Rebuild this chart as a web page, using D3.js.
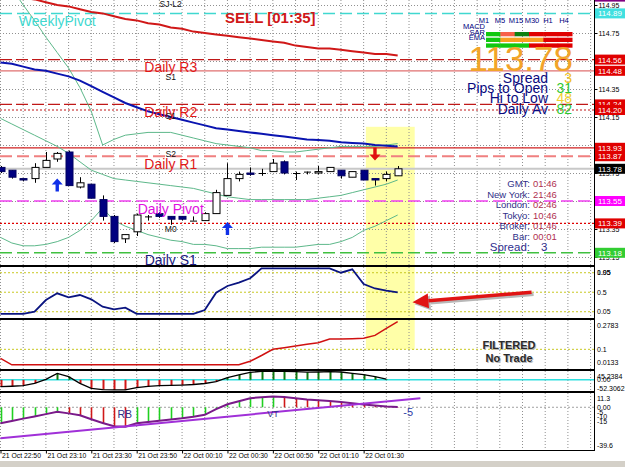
<!DOCTYPE html>
<html>
<head>
<meta charset="utf-8">
<script src="https://cdn.jsdelivr.net/npm/d3@7"></script>
<style>
  html, body { margin: 0; padding: 0; background: #fff; overflow: hidden; }
  svg { display: block; font-family: "Liberation Sans", Arial, sans-serif; }
</style>
</head>
<body>
<svg id="chart" width="625" height="467"></svg>
<script>
// M5 bars, 21 Oct 22:50 -> 22 Oct 01:45
const opens  = [113.79,113.77,113.71,113.71,113.79,113.85,113.90,113.65,113.67,113.56,113.44,113.28,113.33,113.44,113.46,113.44,113.44,113.41,113.41,113.46,113.59,113.71,113.75,113.75,113.76,113.83,113.75,113.76,113.75,113.76,113.77,113.72,113.77,113.71,113.71,113.73];
const highs  = [113.80,113.77,113.71,113.82,113.90,113.90,113.91,113.72,113.67,113.59,113.45,113.31,113.46,113.45,113.47,113.44,113.44,113.44,113.47,113.63,113.82,113.76,113.79,113.78,113.85,113.84,113.76,113.76,113.80,113.79,113.77,113.76,113.77,113.71,113.76,113.80];
const lows   = [113.75,113.71,113.69,113.68,113.79,113.83,113.66,113.64,113.57,113.41,113.25,113.25,113.30,113.41,113.43,113.38,113.41,113.41,113.41,113.46,113.59,113.69,113.73,113.73,113.76,113.74,113.70,113.74,113.74,113.76,113.71,113.72,113.70,113.66,113.69,113.73];
const closes = [113.76,113.72,113.70,113.79,113.84,113.89,113.66,113.68,113.57,113.44,113.26,113.31,113.45,113.44,113.44,113.42,113.42,113.41,113.46,113.61,113.71,113.74,113.74,113.75,113.82,113.75,113.75,113.76,113.76,113.79,113.73,113.76,113.70,113.70,113.74,113.78];

const slowMA = [115.02,115.01,115.00,114.99,114.97,114.95,114.94,114.92,114.90,114.89,114.87,114.85,114.84,114.82,114.81,114.79,114.78,114.76,114.75,114.74,114.73,114.72,114.71,114.70,114.69,114.68,114.66,114.65,114.64,114.64,114.63,114.62,114.61,114.60,114.60,114.59];
const fastMA = [114.54,114.53,114.51,114.49,114.48,114.46,114.44,114.41,114.37,114.33,114.29,114.25,114.22,114.19,114.17,114.15,114.13,114.11,114.09,114.07,114.06,114.05,114.04,114.03,114.02,114.01,114.00,113.99,113.985,113.98,113.97,113.965,113.96,113.95,113.945,113.94];
const bandUpper = [115.19,115.07,114.95,114.84,114.72,114.61,114.50,114.36,114.19,113.95,113.99,114.02,114.03,114.04,114.04,114.04,114.02,114.00,113.98,113.96,113.95,113.94,113.93,113.91,113.91,113.90,113.90,113.91,113.92,113.93,113.94,113.94,113.94,113.94,113.95,113.96];
const bandMid   = [114.14,114.10,114.06,114.02,113.98,113.94,113.89,113.83,113.77,113.74,113.71,113.70,113.69,113.68,113.67,113.66,113.65,113.64,113.62,113.60,113.58,113.57,113.56,113.56,113.56,113.56,113.56,113.56,113.57,113.58,113.59,113.61,113.63,113.65,113.67,113.70];
const bandLower = [113.29,113.25,113.23,113.23,113.24,113.26,113.29,113.34,113.41,113.50,113.41,113.37,113.34,113.31,113.29,113.27,113.26,113.24,113.24,113.23,113.21,113.21,113.21,113.22,113.22,113.22,113.22,113.23,113.24,113.24,113.26,113.29,113.34,113.37,113.41,113.45];

// horizontal levels (price + right-axis tag)
const levelNames  = ["weekly","r3","r3b","r2","r2b","s2","r1","bid","pivot","m0","s1","top"];
const levelPrices = [114.89,114.56,114.48,114.24,114.20,113.93,113.87,113.78,113.55,113.39,113.18,115.01];
const pivotLabels = ["WeeklyPivot","Daily R3","Daily R2","Daily R1","Daily Pivot","Daily S1"];
const pivotPrices = [114.89,114.56,114.24,113.87,113.55,113.18];
const pivotBars   = [5,15,15,15,15,15];
const smallLabels = ["SJ-L2","S1","S1","S2","M0"];
const smallPrices = [115.00,114.48,114.20,113.93,113.39];

// signal arrows
const arrowBars   = [5,20,33];
const arrowPrices = [113.71,113.40,113.84];
const arrowDirs   = ["up","up","down"];

// sub windows
const oscValues  = [0,0,0,0.05,0.32,0.475,0.383,0.436,0.337,0.166,0.106,0.143,0,0,0,0,0,0,0.09,0.489,0.644,0.72,0.822,1.05,1.05,1.05,1.05,1.05,1.05,1.05,0.95,1.03,0.69,0.586,0.535,0.498];
const oscLevels  = [0.95,0.5,0.05];
const filtValues = [0.042,0,0,0,0,0,0,0,0,0,0,0,0,0,0,0,0,0,0,0,0,0,0.023,0.06,0.10,0.11,0.121,0.132,0.142,0.166,0.166,0.168,0.171,0.19,0.235,0.2783];
const filtLevels = [0.1];
const histValues = [-35,-33,-30,-18,2,33,16,-18,-44,-50,-52,-52,-40,-34,-30,-29,-27,-24,-19,-9,11,25,38,44,45,44,42,39,40,42,40,33,27,16,3];
const trendValues = [-16.8,-14.4,-11.9,-9.6,-7.2,-4.7,-6.4,-8.4,-12.6,-16.5,-20.0,-20.4,-16.8,-15.4,-14.2,-12.8,-11.5,-9.9,-7.9,-2.0,3.2,6.3,9.5,10.6,11.3,10.8,9.5,8.2,7.4,6.5,5.5,4.2,3.0,1.8,0.8,0.3];
const trendLineBars   = [0,37];
const trendLineValues = [-32.6,9.5];

// axis ticks
const mainTicks  = [114.95,114.75,114.55,114.35,114.15,113.95,113.75,113.55,113.35,113.15];
const oscTicks   = ["1.05","0.95","0.5","0.05"];
const filtTicks  = ["0.2783","0.1","0.0133"];
const histTicks  = ["45.2384","0.00","-52.3062"];
const trendTicks = ["11.3","0.00","-5","-10","-15","-39.6"];
const timeTickBars = [0,4,8,12,16,20,24,28,32];
const timeLabels = ["21 Oct 22:50","21 Oct 23:10","21 Oct 23:30","21 Oct 23:50","22 Oct 00:10","22 Oct 00:30","22 Oct 00:50","22 Oct 01:10","22 Oct 01:30"];

// dashboard texts
const tfLabels   = ["M1","M5","M15","M30","H1","H4"];
const rowLabels  = ["MACD","SAR","EMA"];
const rowSignals = [
  ["up","weak","strong","down","down","down"],
  ["up","flat","flat","flat","down","down"],
  ["up","up","up","down","down","down"]
];
const statLabels = ["Spread","Pips to Open","Hi to Low","Daily Av"];
const statValues = [3,31,48,82];
const clockLabels = ["GMT:","New York:","London:","Tokyo:","Broker:","Bar:"];
const clockValues = ["01:46","21:46","02:46","10:46","01:46","00:01"];
const spreadNow = 3;

// ---------------------------------------------------------------
const svg = d3.select("#chart");
const defs = svg.append("defs");
const RIGHT = 594;

const P = {
  main:  {top: 0,   bottom: 265},
  osc:   {top: 267, bottom: 318},
  filt:  {top: 320, bottom: 369},
  hist:  {top: 371, bottom: 391},
  trend: {top: 393, bottom: 450}
};

const x = d3.scaleLinear().domain([0, 52.3]).range([0.5, RIGHT]);
const yMain  = d3.scaleLinear().domain([113.15, 114.95]).range([257, 5]);
const yOsc   = d3.scaleLinear().domain([0, 1.05]).range([313.9, 268.4]);
const yFilt  = d3.scaleLinear().domain([0, 0.2783]).range([364.8, 321.7]);
const yHist  = d3.scaleLinear().domain([-52.3062, 45.2384]).range([390, 371]);
const yTrend = d3.scaleLinear().domain([-39.6, 11.3]).range([445, 396.5]);

const gridColor = "#909090";

function makePanel(name) {
  const p = P[name];
  defs.append("clipPath").attr("id", "clip-" + name)
    .append("rect").attr("x", 0).attr("y", p.top)
    .attr("width", RIGHT).attr("height", p.bottom - p.top);
  const g = svg.append("g").attr("clip-path", `url(#clip-${name})`);
  // vertical grid every 10 minutes
  g.append("g").selectAll("line")
    .data(d3.range(0, 53, 2)).enter().append("line")
    .attr("x1", d => x(d)).attr("x2", d => x(d))
    .attr("y1", p.top).attr("y2", p.bottom)
    .attr("stroke", gridColor).attr("stroke-width", 1)
    .attr("stroke-dasharray", "1,2");
  return g;
}

// highlight zone behind everything
svg.append("rect")
  .attr("x", x(32.2)).attr("width", x(36.5) - x(32.2))
  .attr("y", yMain(114.08)).attr("height", yFilt(0.1) - yMain(114.08))
  .attr("fill", "#FFFFA8");

// ================= main window =================
const gMain = makePanel("main");

gMain.append("g").selectAll("line")
  .data(mainTicks).enter().append("line")
  .attr("x1", 0).attr("x2", RIGHT)
  .attr("y1", d => Math.round(yMain(d)) + 0.5).attr("y2", d => Math.round(yMain(d)) + 0.5)
  .attr("stroke", gridColor).attr("stroke-dasharray", "1,2");

const levelStyle = {
  weekly: {stroke: "#40D8D0", dash: "12,5", w: 1.5, box: "#40E0E0"},
  r3:     {stroke: "#C01818", dash: "12,4", w: 1.3, box: "#E00000"},
  r3b:    {stroke: "#E07070", dash: null,   w: 1.2, box: "#E00000"},
  r2:     {stroke: "#C01818", dash: "12,4", w: 1.3, box: "#E00000"},
  r2b:    {stroke: "#C01818", dash: "2,2",  w: 1.2, box: "#E00000"},
  s2:     {stroke: "#D02020", dash: null,   w: 1.2, box: "#E00000"},
  r1:     {stroke: "#F08080", dash: "12,5", w: 2,   box: "#E00000"},
  bid:    {stroke: "#C8C8C8", dash: null,   w: 2,   box: "#000000"},
  pivot:  {stroke: "#F040F0", dash: "12,5", w: 1.5, box: "#FF00FF"},
  m0:     {stroke: "#E00000", dash: "2,2",  w: 1.2, box: "#E00000"},
  s1:     {stroke: "#40C040", dash: "12,5", w: 1.5, box: "#32CD32"},
  top:    {stroke: "none",    dash: null,   w: 0,   box: "#800080"}
};
const levels = levelNames.map((n, i) => ({name: n, price: levelPrices[i]}));

gMain.append("g").selectAll("line")
  .data(levels).enter().append("line")
  .attr("x1", 0).attr("x2", RIGHT)
  .attr("y1", d => yMain(d.price)).attr("y2", d => yMain(d.price))
  .attr("stroke", d => levelStyle[d.name].stroke)
  .attr("stroke-width", d => levelStyle[d.name].w)
  .attr("stroke-dasharray", d => levelStyle[d.name].dash);

const lineFor = (scale) => d3.line().x((d, i) => x(i)).y(d => scale(d));

gMain.append("path").datum(bandUpper).attr("d", lineFor(yMain))
  .attr("fill", "none").attr("stroke", "#5DB88A").attr("stroke-width", 1);
gMain.append("path").datum(bandMid).attr("d", lineFor(yMain))
  .attr("fill", "none").attr("stroke", "#5DB88A").attr("stroke-width", 1);
gMain.append("path").datum(bandLower).attr("d", lineFor(yMain))
  .attr("fill", "none").attr("stroke", "#5DB88A").attr("stroke-width", 1);
gMain.append("path").datum(slowMA).attr("d", lineFor(yMain))
  .attr("fill", "none").attr("stroke", "#D01818").attr("stroke-width", 2);
gMain.append("path").datum(fastMA).attr("d", lineFor(yMain))
  .attr("fill", "none").attr("stroke", "#0A14B0").attr("stroke-width", 2);

// candles
const bars = closes.map((c, i) => ({i, o: opens[i], h: highs[i], l: lows[i], c}));
const gCandles = gMain.append("g");
gCandles.selectAll("line.wick")
  .data(bars).enter().append("line").attr("class", "wick")
  .attr("x1", d => Math.round(x(d.i)) + 0.5).attr("x2", d => Math.round(x(d.i)) + 0.5)
  .attr("y1", d => yMain(d.h)).attr("y2", d => yMain(d.l))
  .attr("stroke", "#000").attr("stroke-width", 1);
gCandles.selectAll("rect.body")
  .data(bars).enter().append("rect").attr("class", "body")
  .attr("x", d => Math.round(x(d.i)) - 3)
  .attr("width", 7)
  .attr("y", d => yMain(Math.max(d.o, d.c)))
  .attr("height", d => Math.max(1, Math.abs(yMain(d.o) - yMain(d.c))))
  .attr("fill", d => d.c > d.o ? "#fff" : d.c < d.o ? "#000080" : "#000")
  .attr("stroke", d => d.c > d.o ? "#000" : d.c < d.o ? "#000060" : "none")
  .attr("stroke-width", 1);

// arrows (tip on the price)
const arrows = arrowBars.map((b, i) => ({b, p: arrowPrices[i], dir: arrowDirs[i]}));
gMain.append("g").selectAll("path")
  .data(arrows).enter().append("path")
  .attr("d", d => {
    const s = d.dir === "up" ? 1 : -1;
    return `M0,0 L5.5,${6 * s} L1.7,${6 * s} L1.7,${13 * s} L-1.7,${13 * s} L-1.7,${6 * s} L-5.5,${6 * s} Z`;
  })
  .attr("transform", d => `translate(${x(d.b)},${yMain(d.p)})`)
  .attr("fill", d => d.dir === "up" ? "#1030E8" : "#E01010");

// level captions
const pivotColor = ["#40D8D0", "#E01818", "#E01818", "#E01818", "#E010E0", "#1A1A80"];
gMain.append("g").selectAll("text")
  .data(pivotLabels).enter().append("text")
  .attr("x", (d, i) => x(pivotBars[i]))
  .attr("y", (d, i) => yMain(pivotPrices[i]) + 12.5)
  .attr("text-anchor", "middle").attr("font-size", 14)
  .attr("fill", (d, i) => pivotColor[i])
  .text(d => d);

gMain.append("g").selectAll("text")
  .data(smallLabels).enter().append("text")
  .attr("x", x(15)).attr("y", (d, i) => yMain(smallPrices[i]) + 9)
  .attr("text-anchor", "middle").attr("font-size", 8.5).attr("fill", "#111")
  .text(d => d);

svg.append("text").attr("x", 225).attr("y", 23)
  .attr("font-size", 15).attr("font-weight", "bold").attr("fill", "#D01818")
  .text("SELL [01:35]");

// ---- dashboard, top right
const tfX = d3.scaleBand().domain(tfLabels).range([476, 572]);
svg.append("g").selectAll("text")
  .data(tfLabels).enter().append("text")
  .attr("x", d => tfX(d) + tfX.bandwidth() / 2).attr("y", 23)
  .attr("text-anchor", "middle").attr("font-size", 7.5).attr("fill", "#000080")
  .text(d => d);

svg.append("g").selectAll("text")
  .data(rowLabels).enter().append("text")
  .attr("x", 485).attr("y", (d, i) => 29 + i * 5.5)
  .attr("text-anchor", "end").attr("font-size", 7.5).attr("fill", "#000080")
  .text(d => d);

const sigColor = {up: "#10C810", strong: "#108010", weak: "#F86048", flat: "#F8A020", down: "#E00000"};
const cellX = d3.scaleBand().domain(tfLabels).range([486, 572]);
rowSignals.forEach((row, r) => {
  svg.append("g").selectAll("rect")
    .data(row).enter().append("rect")
    .attr("x", (d, i) => cellX(tfLabels[i]))
    .attr("width", cellX.bandwidth() + 0.5)
    .attr("y", 32 + r * 5.7).attr("height", 4.3)
    .attr("fill", d => sigColor[d]);
});

svg.append("text").attr("x", 573).attr("y", 71)
  .attr("text-anchor", "end").attr("font-size", 35).attr("fill", "#F2A42A")
  .text(d3.format(".2f")(closes[closes.length - 1]));

const statColor = ["#F0C020", "#30C830", "#F0D030", "#30C830"];
svg.append("g").selectAll("text")
  .data(statLabels).enter().append("text")
  .attr("x", 548).attr("y", (d, i) => 83 + i * 10.2)
  .attr("text-anchor", "end").attr("font-size", 14).attr("fill", "#0A0A80")
  .text(d => d);
svg.append("g").selectAll("text")
  .data(statValues).enter().append("text")
  .attr("x", 572).attr("y", (d, i) => 83 + i * 10.2)
  .attr("text-anchor", "end").attr("font-size", 14).attr("fill", (d, i) => statColor[i])
  .text(d => d);

// clocks
svg.append("g").selectAll("text")
  .data(clockLabels).enter().append("text")
  .attr("x", 530).attr("y", (d, i) => 187 + i * 10.6)
  .attr("text-anchor", "end").attr("font-size", 9.5).attr("fill", "#303088")
  .text(d => d);
svg.append("g").selectAll("text")
  .data(clockValues).enter().append("text")
  .attr("x", 533).attr("y", (d, i) => 187 + i * 10.6)
  .attr("font-size", 9.5).attr("fill", "#B03050")
  .text(d => d);
svg.append("text").attr("x", 530).attr("y", 251)
  .attr("text-anchor", "end").attr("font-size", 11.5).attr("fill", "#303090").text("Spread:");
svg.append("text").attr("x", 541).attr("y", 251)
  .attr("font-size", 11.5).attr("fill", "#303090").text(spreadNow);

// ================= oscillator window =================
const gOsc = makePanel("osc");
gOsc.append("g").selectAll("line")
  .data(oscLevels).enter().append("line")
  .attr("x1", 0).attr("x2", RIGHT)
  .attr("y1", d => yOsc(d)).attr("y2", d => yOsc(d))
  .attr("stroke", "#C8C820").attr("stroke-dasharray", "2,2");
gOsc.append("path").datum(oscValues).attr("d", lineFor(yOsc))
  .attr("fill", "none").attr("stroke", "#0A1480").attr("stroke-width", 1.8);

// pointer arrow with drop shadow
const tail = [x(46.8), yOsc(0.5)], tip = [x(36.3), yOsc(0.27)];
function pointer(g, color, dx, dy) {
  const ang = Math.atan2(tip[1] - tail[1], tip[0] - tail[0]);
  const bx = tip[0] - 16 * Math.cos(ang), by = tip[1] - 16 * Math.sin(ang);
  const nx = -Math.sin(ang) * 7.5, ny = Math.cos(ang) * 7.5;
  const a = g.append("g").attr("transform", `translate(${dx},${dy})`);
  a.append("line").attr("x1", tail[0]).attr("y1", tail[1]).attr("x2", bx).attr("y2", by)
    .attr("stroke", color).attr("stroke-width", 3.5);
  a.append("path").attr("d", `M${tip[0]},${tip[1]} L${bx + nx},${by + ny} L${bx - nx},${by - ny} Z`)
    .attr("fill", color);
}
pointer(svg, "#B8B8B8", 2, 2);
pointer(svg, "#E01414", 0, 0);

// ================= filter window =================
const gFilt = makePanel("filt");
gFilt.append("g").selectAll("line")
  .data(filtLevels).enter().append("line")
  .attr("x1", 0).attr("x2", RIGHT)
  .attr("y1", d => yFilt(d)).attr("y2", d => yFilt(d))
  .attr("stroke", "#C8C820").attr("stroke-dasharray", "2,2");
gFilt.append("path").datum(filtValues).attr("d", lineFor(yFilt))
  .attr("fill", "none").attr("stroke", "#D01010").attr("stroke-width", 1.5);

[["FILTERED", 349], ["No Trade", 362]].forEach(([t, yy]) => {
  svg.append("text").attr("x", 510).attr("y", yy + 1).attr("text-anchor", "middle")
    .attr("font-size", 11).attr("font-weight", "bold").attr("fill", "#B8B8B8").text(t);
  svg.append("text").attr("x", 509).attr("y", yy).attr("text-anchor", "middle")
    .attr("font-size", 11).attr("font-weight", "bold").attr("fill", "#2A2A2A").text(t);
});

// ================= histogram window =================
const gHist = makePanel("hist");
gHist.append("line").attr("x1", 0).attr("x2", RIGHT)
  .attr("y1", yHist(0)).attr("y2", yHist(0))
  .attr("stroke", "#30E0E0").attr("stroke-width", 1.5);
gHist.append("g").selectAll("line")
  .data(histValues).enter().append("line")
  .attr("x1", (d, i) => Math.round(x(i)) + 0.5).attr("x2", (d, i) => Math.round(x(i)) + 0.5)
  .attr("y1", yHist(0)).attr("y2", d => yHist(d))
  .attr("stroke", d => d >= 0 ? "#107810" : "#D01818").attr("stroke-width", 2);
gHist.append("path").datum(histValues).attr("d", lineFor(yHist))
  .attr("fill", "none").attr("stroke", "#000").attr("stroke-width", 1.3);

// ================= trend window =================
const gTrend = makePanel("trend");
gTrend.append("line").attr("x1", 0).attr("x2", RIGHT)
  .attr("y1", yTrend(0)).attr("y2", yTrend(0))
  .attr("stroke", "#A0A0A0").attr("stroke-dasharray", "2,2");
gTrend.append("g").selectAll("line")
  .data(trendValues).enter().append("line")
  .attr("x1", (d, i) => Math.round(x(i)) + 0.5).attr("x2", (d, i) => Math.round(x(i)) + 0.5)
  .attr("y1", yTrend(0)).attr("y2", d => yTrend(d))
  .attr("stroke", (d, i) => i > 0 && d < trendValues[i - 1] ? "#D01818" : "#20D020")
  .attr("stroke-width", 1.6);
gTrend.append("path").datum(trendValues).attr("d", lineFor(yTrend))
  .attr("fill", "none").attr("stroke", "#7A1A8A").attr("stroke-width", 2);
gTrend.append("line")
  .attr("x1", x(trendLineBars[0])).attr("y1", yTrend(trendLineValues[0]))
  .attr("x2", x(trendLineBars[1])).attr("y2", yTrend(trendLineValues[1]))
  .attr("stroke", "#A030D8").attr("stroke-width", 2);
gTrend.append("text").attr("x", x(10.3)).attr("y", 418)
  .attr("font-size", 10.5).attr("fill", "#303088").text("RB");
gTrend.append("text").attr("x", x(23.5)).attr("y", 417)
  .attr("font-size", 9).attr("fill", "#303088").text("VT");
gTrend.append("text").attr("x", x(35.5)).attr("y", 416)
  .attr("font-size", 11).attr("fill", "#3040A8").text("-5");

// ================= frames and axes =================
Object.values(P).forEach(p => {
  svg.append("rect").attr("x", -2).attr("y", p.top - 0.5)
    .attr("width", RIGHT + 2.5).attr("height", p.bottom - p.top + 1)
    .attr("fill", "none").attr("stroke", "#000").attr("stroke-width", 1);
});

const mainAxis = d3.axisRight(yMain).tickValues(mainTicks).tickSize(3).tickPadding(1)
  .tickFormat(d3.format(".2f"));
svg.append("g").attr("transform", `translate(${RIGHT + 0.5},0)`).call(mainAxis)
  .call(g => g.select(".domain").remove())
  .call(g => g.selectAll("text").attr("font-size", 7).attr("font-family", "Liberation Sans, Arial"));

// price tags on the right scale
const tags = svg.append("g");
levels.forEach(d => {
  const yy = yMain(d.price);
  tags.append("rect").attr("x", 595).attr("y", yy - 5).attr("width", 30).attr("height", 10)
    .attr("fill", levelStyle[d.name].box);
  tags.append("text").attr("x", 598).attr("y", yy + 3)
    .attr("font-size", 8).attr("fill", "#fff").text(d3.format(".2f")(d.price));
});

function sideLabels(labels, scale, p) {
  svg.append("g").selectAll("text")
    .data(labels).enter().append("text")
    .attr("x", 597)
    .attr("y", d => Math.min(p.bottom - 3, Math.max(p.top + 5, scale(+d))) + 2.5)
    .attr("font-size", 7).attr("fill", "#000").text(d => d);
}
sideLabels(oscTicks, yOsc, P.osc);
sideLabels(filtTicks, yFilt, P.filt);
sideLabels(histTicks, yHist, P.hist);
sideLabels(trendTicks, yTrend, P.trend);

const timeAxis = d3.axisBottom(x).tickValues(timeTickBars).tickSize(3)
  .tickFormat((d, i) => timeLabels[i]);
svg.append("g").attr("transform", `translate(0,${P.trend.bottom + 0.5})`).call(timeAxis)
  .call(g => g.select(".domain").remove())
  .call(g => g.selectAll("text").attr("text-anchor", "start").attr("x", 1).attr("y", 3)
    .attr("font-size", 6.8).attr("font-family", "Liberation Sans, Arial"));

svg.append("rect").attr("x", 0).attr("y", 461).attr("width", 625).attr("height", 6)
  .attr("fill", "#D4D0C8");
</script>
</body>
</html>
